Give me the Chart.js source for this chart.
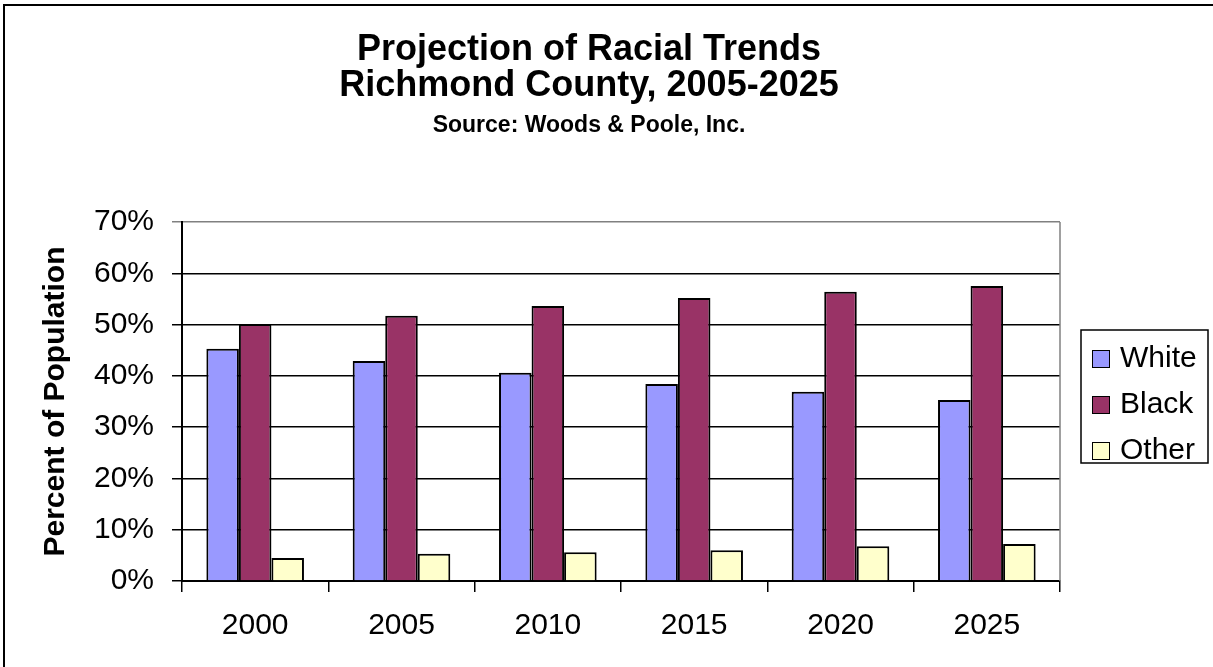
<!DOCTYPE html>
<html>
<head>
<meta charset="utf-8">
<title>Projection of Racial Trends</title>
<script src="https://cdn.jsdelivr.net/npm/chart.js@4/dist/chart.umd.min.js"></script>
<style>
  html, body { margin: 0; padding: 0; background: #fff; }
  canvas { display: block; }
</style>
</head>
<body>
<canvas id="raceChart" width="1213" height="667"></canvas>
<script>
    const years = ['2000', '2005', '2010', '2015', '2020', '2025'];
    const white = [45.3, 42.9, 40.6, 38.4, 36.9, 35.3];
    const black = [50.1, 51.7, 53.6, 55.2, 56.4, 57.5];
    const other = [4.5, 5.3, 5.6, 6.0, 6.8, 7.2];
    const yTicks = [0, 10, 20, 30, 40, 50, 60, 70];

    const titleLines = ['Projection of Racial Trends', 'Richmond County, 2005-2025'];
    const sourceLine = 'Source: Woods & Poole, Inc.';
    const fontFamily = "'Liberation Sans', Arial, sans-serif";

    // frame, headings, right edge of the plot and the boxed legend
    const decorations = {
      id: 'decorations',
      beforeDraw(chart) {
        const c = chart.ctx;
        c.save();
        c.fillStyle = '#fff';
        c.fillRect(0, 0, chart.width, chart.height);
        c.strokeStyle = '#000';
        c.lineWidth = 2;
        c.strokeRect(4, 5, chart.width + 10, chart.height + 10);
        c.restore();
      },
      afterDatasetsDraw(chart) {
        const c = chart.ctx;
        const area = chart.chartArea;
        c.save();
        c.strokeStyle = '#808080';
        c.lineWidth = 1.5;
        c.beginPath();
        c.moveTo(area.right, area.top);
        c.lineTo(area.right, area.bottom);
        c.stroke();
        c.restore();
      },
      afterDraw(chart) {
        const c = chart.ctx;
        c.save();
        c.fillStyle = '#000';
        c.textAlign = 'center';
        c.textBaseline = 'alphabetic';
        c.font = 'bold 36px ' + fontFamily;
        c.fillText(titleLines[0], 589, 60);
        c.fillText(titleLines[1], 589, 96);
        c.font = 'bold 23px ' + fontFamily;
        c.fillText(sourceLine, 589, 132);

        // legend
        c.lineWidth = 1.5;
        c.strokeStyle = '#000';
        c.strokeRect(1081, 330, 127, 133);
        c.font = '30px ' + fontFamily;
        c.textAlign = 'left';
        c.textBaseline = 'middle';
        chart.data.datasets.forEach((ds, i) => {
          const cy = 359 + i * 46;
          c.fillStyle = ds.backgroundColor;
          c.fillRect(1092, cy - 9, 18, 18);
          c.lineWidth = 1;
          c.strokeRect(1092.5, cy - 8.5, 17, 17);
          c.fillStyle = '#000';
          c.fillText(ds.label, 1120, cy);
        });
        c.restore();
      }
    };

    const ctx = document.getElementById('raceChart').getContext('2d');
    new Chart(ctx, {
      type: 'bar',
      data: {
        labels: years,
        datasets: [
          { label: 'White', data: white, backgroundColor: '#9999FF' },
          { label: 'Black', data: black, backgroundColor: '#993366' },
          { label: 'Other', data: other, backgroundColor: '#FFFFCC' }
        ].map(ds => Object.assign(ds, {
          borderColor: '#000',
          borderWidth: 2,
          categoryPercentage: 0.667,
          barPercentage: 1
        }))
      },
      options: {
        responsive: false,
        animation: false,
        layout: { padding: { top: 222, right: 153, left: 0, bottom: 0 } },
        plugins: {
          legend: { display: false },
          title: { display: false },
          tooltip: { enabled: false }
        },
        scales: {
          x: {
            grid: {
              offset: true,
              drawOnChartArea: false,
              tickLength: 11,
              color: '#000',
              lineWidth: 1.5
            },
            border: { color: '#000', width: 2 },
            ticks: {
              color: '#000',
              padding: 16,
              font: { family: fontFamily, size: 30 }
            },
            afterFit(scale) { scale.height = 86; }
          },
          y: {
            min: 0,
            max: 70,
            afterBuildTicks(scale) {
              scale.ticks = yTicks.map(v => ({ value: v }));
            },
            grid: {
              color: c => (c.tick && c.tick.value === 70 ? '#808080' : '#000'),
              lineWidth: 1.5,
              tickLength: 10
            },
            border: { color: '#000', width: 2 },
            ticks: {
              color: '#000',
              padding: 18,
              font: { family: fontFamily, size: 30 },
              callback: v => v + '%'
            },
            title: {
              display: true,
              text: 'Percent of Population',
              color: '#000',
              padding: { top: 38, bottom: 0 },
              font: { family: fontFamily, size: 30, weight: 'bold' }
            },
            afterFit(scale) { scale.width = 182; }
          }
        }
      },
      plugins: [decorations]
    });
</script>
</body>
</html>
